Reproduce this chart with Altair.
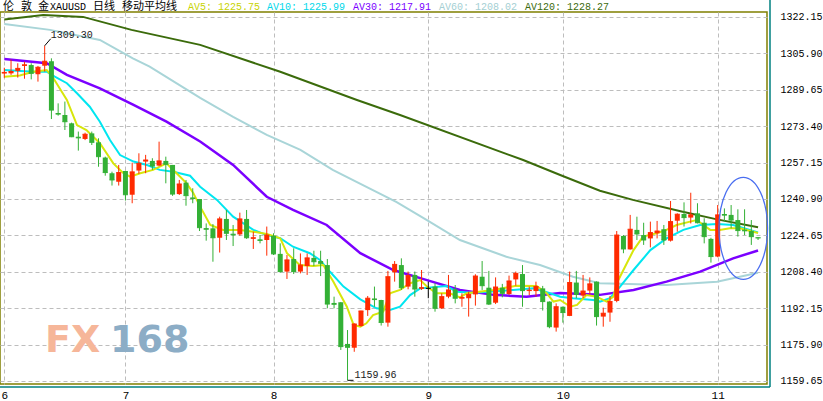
import altair as alt
import pandas as pd

# London gold (XAUUSD) daily bars, one per trading day, June 6 - Nov 9
opens = [1296.9, 1297.0, 1298.1, 1300.3, 1300.7, 1296.6, 1300.4, 1302.4, 1279.3, 1278.4,
         1274.7, 1268.7, 1267.7, 1270.2, 1266.2, 1259.4, 1252.4, 1248.6, 1253.4, 1242.8,
         1253.6, 1257.6, 1257.9, 1255.8, 1257.9, 1256.1, 1243.1, 1248.2, 1241.6, 1240.9,
         1227.9, 1227.8, 1223.6, 1232.0, 1225.4, 1225.1, 1232.0, 1223.1, 1222.9, 1222.6,
         1224.5, 1216.4, 1208.5, 1214.1, 1208.5, 1211.0, 1214.6, 1213.2, 1211.4, 1194.5,
         1194.8, 1176.2, 1174.5, 1184.2, 1191.3, 1196.5, 1195.8, 1185.7, 1208.2, 1211.4,
         1201.8, 1207.0, 1200.8, 1201.0, 1201.8, 1192.1, 1197.3, 1200.6, 1196.4, 1196.6,
         1198.3, 1206.2, 1201.3, 1194.6, 1201.3, 1198.5, 1205.0, 1207.4, 1199.8, 1199.8,
         1201.0, 1195.1, 1183.5, 1192.8, 1188.7, 1203.6, 1197.8, 1200.0, 1204.0, 1188.4,
         1190.2, 1195.4, 1224.4, 1218.4, 1227.1, 1224.8, 1223.3, 1225.6, 1227.4, 1222.3,
         1231.2, 1234.2, 1232.6, 1234.5, 1230.3, 1223.1, 1215.2, 1234.2, 1233.8, 1231.5,
         1227.2, 1226.6, 1223.8]
highs = [1299.5, 1303.2, 1301.5, 1302.2, 1301.5, 1300.3, 1309.30, 1303.7, 1283.6, 1284.4,
         1275.0, 1271.0, 1270.5, 1271.0, 1268.0, 1259.8, 1253.1, 1256.1, 1253.5, 1257.1,
         1261.3, 1260.6, 1259.1, 1266.5, 1259.8, 1256.1, 1249.4, 1249.4, 1245.7, 1240.9,
         1230.0, 1229.7, 1233.0, 1236.0, 1229.3, 1234.8, 1236.0, 1226.3, 1224.8, 1228.6,
         1225.6, 1221.1, 1215.9, 1218.9, 1216.6, 1216.6, 1217.8, 1217.8, 1214.1, 1197.3,
         1194.9, 1182.4, 1185.4, 1191.0, 1197.6, 1201.8, 1195.9, 1208.8, 1213.2, 1214.4,
         1208.5, 1208.5, 1209.2, 1204.0, 1203.3, 1198.8, 1207.0, 1202.5, 1198.8, 1199.5,
         1207.3, 1213.2, 1208.8, 1205.9, 1203.0, 1206.7, 1208.5, 1211.4, 1201.8, 1204.0,
         1202.1, 1195.2, 1194.3, 1192.9, 1208.5, 1208.8, 1207.0, 1205.9, 1204.1, 1192.4,
         1197.6, 1226.6, 1224.8, 1233.8, 1233.0, 1230.3, 1230.8, 1231.1, 1229.3, 1240.0,
         1234.5, 1239.4, 1243.7, 1239.0, 1232.3, 1223.6, 1238.2, 1236.7, 1238.2, 1236.3,
         1236.3, 1231.5, 1223.9]
lows = [1295.0, 1296.3, 1295.1, 1294.6, 1294.3, 1293.3, 1297.8, 1276.6, 1278.1, 1271.7,
        1268.5, 1262.5, 1267.2, 1265.0, 1255.3, 1251.3, 1246.9, 1246.9, 1240.2, 1239.0,
        1252.1, 1252.4, 1253.9, 1255.6, 1247.9, 1242.3, 1242.7, 1237.9, 1239.0, 1226.6,
        1222.3, 1212.9, 1217.0, 1222.6, 1219.9, 1224.5, 1223.1, 1218.6, 1221.1, 1215.6,
        1215.9, 1208.0, 1205.2, 1207.4, 1207.7, 1207.0, 1211.0, 1206.5, 1192.1, 1192.1,
        1173.5, 1159.96, 1172.7, 1183.9, 1188.7, 1192.8, 1184.4, 1183.9, 1204.0, 1200.3,
        1200.6, 1197.3, 1200.3, 1196.6, 1190.6, 1191.8, 1196.6, 1194.3, 1192.8, 1188.4,
        1193.3, 1200.3, 1193.6, 1194.0, 1197.0, 1198.0, 1202.2, 1192.8, 1198.0, 1197.3,
        1191.1, 1183.2, 1181.7, 1185.7, 1188.6, 1196.6, 1196.6, 1198.3, 1184.4, 1183.9,
        1186.1, 1194.8, 1216.7, 1218.3, 1222.6, 1220.4, 1219.3, 1223.3, 1220.4, 1221.9,
        1226.3, 1228.6, 1230.0, 1230.0, 1221.1, 1212.5, 1214.9, 1230.8, 1227.8, 1224.1,
        1224.8, 1220.4, 1222.6]
closes = [1297.4, 1297.8, 1299.2, 1300.8, 1297.0, 1299.7, 1302.4, 1280.6, 1278.8, 1275.4,
          1268.7, 1268.2, 1269.8, 1266.2, 1259.8, 1252.7, 1249.4, 1252.7, 1242.8, 1253.0,
          1256.8, 1258.3, 1255.6, 1257.9, 1256.4, 1243.1, 1247.6, 1242.4, 1241.1, 1228.1,
          1227.4, 1223.6, 1232.0, 1225.6, 1224.9, 1232.0, 1223.6, 1223.6, 1222.4, 1224.8,
          1216.4, 1208.5, 1213.7, 1208.5, 1211.4, 1214.6, 1212.9, 1212.2, 1194.0, 1193.9,
          1175.0, 1174.7, 1185.1, 1190.9, 1196.6, 1196.0, 1185.8, 1206.2, 1211.7, 1201.3,
          1206.7, 1200.7, 1201.3, 1201.0, 1192.1, 1197.3, 1200.3, 1196.6, 1196.9, 1198.3,
          1206.5, 1202.2, 1194.0, 1201.6, 1198.8, 1204.3, 1207.7, 1200.0, 1200.2, 1201.8,
          1195.1, 1183.9, 1192.8, 1190.2, 1203.6, 1198.3, 1199.8, 1203.0, 1188.4, 1189.9,
          1195.1, 1224.8, 1218.6, 1227.4, 1225.3, 1222.6, 1225.9, 1226.6, 1222.6, 1230.8,
          1234.1, 1232.6, 1233.8, 1230.3, 1224.1, 1215.2, 1233.8, 1233.7, 1231.5, 1226.8,
          1226.7, 1224.1, 1223.5]

# first bar of each month and its label
month_start = [0, 18, 40, 63, 83, 106]
month_label = ["6", "7", "8", "9", "10", "11"]

price_ticks = [1322.15, 1305.90, 1289.65, 1273.40, 1257.15, 1240.90,
               1224.65, 1208.40, 1192.15, 1175.90, 1159.65]

# moving averages (bar position, value)
ma5_idx = [0, 2.3, 4.3, 6.3, 7.3, 9.3, 10.8, 12.2, 14.2, 16.2, 17.7, 18.7, 20.2, 22.1, 24.1,
           25.6, 27.1, 28.1, 29.1, 30.6, 32.5, 35.0, 37.0, 39.0, 41.0, 42.0, 43.9, 45.9, 47.4,
           48.9, 50.9, 51.9, 52.9, 53.8, 54.8, 56.3, 57.3, 58.8, 60.3, 61.8, 62.8, 64.2, 66.2,
           67.7, 68.7, 72.7, 76.1, 79.1, 80.6, 81.6, 82.6, 84.1, 85.1, 86.5, 88.0, 89.5, 90.5,
           91.0, 92.5, 93.5, 94.9, 96.9, 98.4, 99.9, 101.9, 102.9, 103.9, 104.9, 106.3, 107.8,
           109.3, 112]
ma5_val = [1295.5, 1296.0, 1297.7, 1298.5, 1294.8, 1285.1, 1273.9, 1271.7, 1265.8, 1256.8,
           1252.4, 1250.9, 1252.4, 1253.9, 1256.8, 1252.4, 1247.9, 1243.5, 1237.5, 1229.3,
           1227.1, 1227.1, 1226.3, 1225.3, 1223.4, 1216.7, 1211.4, 1211.0, 1211.4, 1204.0,
           1192.8, 1184.7, 1183.9, 1185.4, 1189.1, 1190.6, 1198.8, 1200.3, 1203.3, 1204.7,
           1201.8, 1198.8, 1198.8, 1197.0, 1198.8, 1200.3, 1202.2, 1202.1, 1198.8, 1195.1,
           1195.8, 1192.8, 1193.6, 1198.0, 1197.3, 1195.1, 1197.3, 1203.3, 1212.2, 1218.1,
           1224.1, 1225.6, 1227.1, 1229.3, 1230.8, 1231.5, 1229.3, 1227.1, 1227.1, 1227.8,
           1227.8, 1225.75]
ma10_idx = [0, 4.3, 6.3, 7.5, 9.3, 10.8, 12.7, 14.2, 15.7, 17.2, 19.2, 21.2, 23.1, 25.1, 27.6,
            29.1, 31.6, 34.0, 37.0, 39.0, 41.0, 42.9, 45.4, 46.9, 48.4, 50.4, 52.9, 55.3, 57.3,
            58.8, 60.3, 61.8, 65.7, 67.2, 69.7, 75.6, 78.6, 81.1, 82.6, 84.5, 87.5, 88.5, 90.0,
            91.5, 93.5, 96.0, 98.4, 100.9, 103.4, 105.9, 108.3, 112]
ma10_val = [1298.5, 1297.7, 1297.7, 1295.5, 1292.6, 1288.1, 1282.1, 1275.4, 1267.2, 1260.5,
            1257.6, 1256.1, 1253.9, 1253.1, 1251.3, 1246.4, 1240.5, 1233.0, 1227.1, 1224.8,
            1223.4, 1219.6, 1216.7, 1213.7, 1208.4, 1201.8, 1196.1, 1192.1, 1191.4, 1192.8,
            1198.0, 1201.0, 1202.1, 1199.5, 1199.1, 1200.3, 1201.0, 1198.8, 1197.3, 1196.6,
            1195.8, 1195.1, 1196.6, 1201.8, 1209.2, 1218.1, 1223.3, 1227.1, 1229.3, 1229.7,
            1229.3, 1225.99]
ma30_idx = [0, 6.3, 9.3, 14.2, 19.2, 24.1, 29.1, 34.0, 39.0, 42.9, 47.9, 52.9, 57.8, 62.8,
            67.7, 72.7, 77.6, 82.6, 88.5, 93.5, 98.4, 103.4, 108.3, 112]
ma30_val = [1303.4, 1301.5, 1296.3, 1290.3, 1282.9, 1275.4, 1266.6, 1256.1, 1241.9, 1236.0,
            1229.3, 1216.7, 1209.2, 1204.7, 1200.3, 1198.1, 1197.3, 1198.9, 1198.1, 1200.3,
            1204.0, 1208.5, 1214.4, 1217.91]
ma60_idx = [0, 6.8, 14.2, 19.1, 21.6, 29.1, 34.0, 39.0, 44.0, 48.8, 58.3, 62.8, 67.7, 74.6,
            79.6, 84.5, 88.5, 98.4, 105.9, 112]
ma60_val = [1319.0, 1316.4, 1311.9, 1303.7, 1300.0, 1286.0, 1277.6, 1269.5, 1262.8, 1253.9,
            1239.5, 1231.5, 1222.6, 1215.1, 1211.4, 1206.2, 1203.3, 1202.5, 1204.0, 1208.02]
ma120_idx = [0, 5.8, 11.7, 18.9, 29.1, 41.0, 52.4, 58.8, 77.1, 82.6, 88.5, 93.4, 100.8,
             105.9, 112]
ma120_val = [1321.0, 1323.0, 1322.2, 1316.4, 1309.7, 1297.7, 1285.1, 1278.4, 1258.3, 1251.6,
             1244.6, 1240.5, 1235.2, 1231.8, 1228.27]

MONO = "Liberation Mono"
CJK = "Liberation Mono, Noto Sans CJK SC"
GRID = "#bdbdbd"

n = len(opens)
direction = ["up" if c > o else ("down" if c < o else "flat") for o, c in zip(opens, closes)]
candles = pd.DataFrame({"idx": list(range(n)), "open": opens, "high": highs,
                        "low": lows, "close": closes, "dir": direction})
dir_color = alt.Color("dir:N", legend=None,
                      scale=alt.Scale(domain=["up", "down", "flat"],
                                      range=["#ff2a00", "#33b035", "#000000"]))

xs = alt.Scale(domain=[-0.64, 113.33], nice=False, zero=False, padding=0)
ys = alt.Scale(domain=[1158.31, 1324.38], nice=False, zero=False, padding=0)

label_expr = " : ".join(f"datum.value == {v} ? '{t}'" for v, t in zip(month_start, month_label)) + " : ''"
x_axis = alt.Axis(values=month_start, labelExpr=label_expr, grid=True, gridDash=[4, 3],
                  gridColor=GRID, domain=False, ticks=False, labelFont=MONO, labelFontSize=11,
                  labelColor="#000000", labelPadding=5, labelBaseline="top", labelFlush=False,
                  title=None)
y_axis = alt.Axis(orient="right", values=price_ticks, format=".2f", grid=True, gridDash=[4, 3],
                  gridColor=GRID, domain=False, ticks=False, labelFont=MONO, labelFontSize=10,
                  labelColor="#000000", labelPadding=13, labelFlush=False, labelOverlap=False,
                  title=None)


def X(field="idx"):
    return alt.X(f"{field}:Q", scale=xs, axis=x_axis, title=None)


def Y(field):
    return alt.Y(f"{field}:Q", scale=ys, axis=y_axis, title=None)


def ma_layer(idx, val, color, width):
    df = pd.DataFrame({"idx": idx, "val": val})
    return alt.Chart(df).mark_line(color=color, strokeWidth=width).encode(x=X(), y=Y("val"))


ma_layers = [
    ma_layer(ma120_idx, ma120_val, "#3b6b0b", 2),
    ma_layer(ma60_idx, ma60_val, "#a9d5d8", 2),
    ma_layer(ma30_idx, ma30_val, "#7b00ff", 2.5),
    ma_layer(ma10_idx, ma10_val, "#00e6f0", 2),
    ma_layer(ma5_idx, ma5_val, "#d7e60a", 2),
]

base = alt.Chart(candles)
wicks = base.mark_rule(strokeWidth=1).encode(x=X(), y=Y("low"), y2=alt.Y2("high"), color=dir_color)
bodies = base.mark_bar(size=5).encode(x=X(), y=Y("open"), y2=alt.Y2("close"), color=dir_color)
close_ticks = base.mark_rule(strokeWidth=1, xOffset=-2.5, x2Offset=2.5).encode(
    x=X(), x2=alt.X2("idx"), y=Y("close"), color=dir_color)

# extreme-price callouts
hi_i = highs.index(max(highs))
lo_i = lows.index(min(lows))
hi_df = pd.DataFrame({"idx": [hi_i], "price": [highs[hi_i]], "label": [f"{highs[hi_i]:.2f}"]})
lo_df = pd.DataFrame({"idx": [lo_i], "price": [lows[lo_i]], "label": [f"{lows[lo_i]:.2f}"]})
hi_lead = alt.Chart(hi_df).mark_rule(color="#000000", strokeWidth=1, x2Offset=6, y2Offset=-7).encode(
    x=X(), x2=alt.X2("idx"), y=Y("price"), y2=alt.Y2("price"))
hi_text = alt.Chart(hi_df).mark_text(align="left", baseline="alphabetic", dx=6, dy=-8, font=MONO,
                                     fontSize=10, color="#1a1a1a").encode(x=X(), y=Y("price"), text="label:N")
lo_lead = alt.Chart(lo_df).mark_rule(color="#000000", strokeWidth=1, x2Offset=6).encode(
    x=X(), x2=alt.X2("idx"), y=Y("price"))
lo_text = alt.Chart(lo_df).mark_text(align="left", baseline="alphabetic", dx=7, dy=-2, font=MONO,
                                     fontSize=10, color="#1a1a1a").encode(x=X(), y=Y("price"), text="label:N")

# blue ellipse around the latest bars
ring_df = pd.DataFrame({"idx": [109.8], "price": [1227.8]})
ring = alt.Chart(ring_df).mark_point(
    shape="M -1 0 A 1 2.1 0 1 1 1 0 A 1 2.1 0 1 1 -1 0 Z", size=2362, filled=False,
    stroke="#4a6ef0", strokeWidth=1.3, opacity=1).encode(x=X(), y=Y("price"))

# header line
head_cjk = pd.DataFrame({"t": ["伦", "敦", "金", "日线", "移动平均线"], "px": [3, 21, 38, 93, 122]})
head_mono = pd.DataFrame({
    "t": ["XAUUSD", "AV5: 1225.75", "AV10: 1225.99", "AV30: 1217.91", "AV60: 1208.02", "AV120: 1228.27"],
    "px": [50, 188, 267, 353, 439, 525],
    "c": ["#000000", "#c8d400", "#00d8ea", "#7b00ff", "#a4cfd3", "#3b6b0b"],
})
head1 = alt.Chart(head_cjk).mark_text(align="left", baseline="middle", font=CJK, fontSize=11,
                                      color="#000000").encode(x=alt.X("px:Q", scale=None), y=alt.value(-5), text="t:N")
head2 = alt.Chart(head_mono).mark_text(align="left", baseline="middle", font=MONO, fontSize=10).encode(
    x=alt.X("px:Q", scale=None), y=alt.value(-5.5), text="t:N", color=alt.Color("c:N", scale=None))

# FX168 watermark
wm = pd.DataFrame({"t": ["FX", "168"], "px": [45, 110], "c": ["#f6b699", "#8cadc6"]})
watermark = alt.Chart(wm).mark_text(align="left", baseline="middle", font="DejaVu Sans", fontSize=38,
                                    fontWeight="bold").encode(
    x=alt.X("px:Q", scale=None), y=alt.value(329), text="t:N", color=alt.Color("c:N", scale=None))

# outer teal frame
frame_v = alt.Chart(pd.DataFrame({"k": [0]})).mark_rule(color="#008080", strokeWidth=1.5).encode(
    x=alt.value(770), y=alt.value(-12), y2=alt.value(375))
frame_h = alt.Chart(pd.DataFrame({"k": [0]})).mark_rule(color="#008080", strokeWidth=1.5).encode(
    x=alt.value(0), x2=alt.value(770), y=alt.value(375))

chart = alt.layer(
    watermark, *ma_layers, wicks, bodies, close_ticks, ring,
    hi_lead, hi_text, lo_lead, lo_text, head1, head2, frame_v, frame_h,
).properties(
    width=767, height=372, autosize="none",
    padding={"left": 0, "top": 12, "right": 56, "bottom": 17},
    background="#ffffff",
).configure_view(stroke="#808000", strokeWidth=1.5)

chart.save("out.html", embed_options={"renderer": "svg", "actions": False})
